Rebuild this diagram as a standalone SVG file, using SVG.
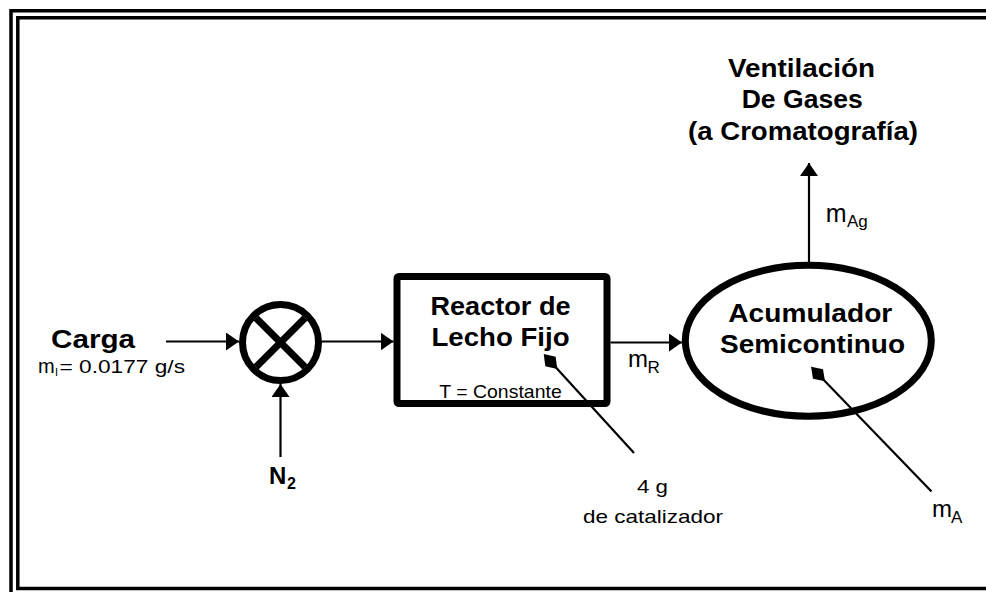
<svg xmlns="http://www.w3.org/2000/svg" width="986" height="592" viewBox="0 0 986 592">
<style>
text{font-family:"Liberation Sans",Arial,sans-serif;fill:#000}
.b{font-weight:bold;font-size:25px}
.r{font-size:19px}
.ln{stroke:#000;stroke-width:2.2;fill:none}
.thick{stroke:#000;stroke-width:7;fill:none}
.frame{stroke:#000;stroke-width:3.5;fill:none}
</style>
<defs>
<marker id="arr" markerUnits="userSpaceOnUse" viewBox="0 0 13 18" refX="13" refY="9" markerWidth="13" markerHeight="18" orient="auto">
<path d="M0,0 L13,9 L0,18 Z" fill="#000"/>
</marker>
<marker id="dia" markerUnits="userSpaceOnUse" viewBox="-11 -8 22 16" refX="0" refY="0" markerWidth="22" markerHeight="16" orient="auto">
<path d="M-10,0 L0,-7 L10,0 L0,7 Z" fill="#000"/>
</marker>
</defs>
<g id="frame">
<path class="frame" d="M11,592 V10.8 H986"/>
<path class="frame" d="M986,17.8 H17.8 V588.5 H986"/>
</g>
<g id="connectors">
<line class="ln" x1="166" y1="341.5" x2="239" y2="341.5" marker-end="url(#arr)"/>
<line class="ln" x1="280.5" y1="457" x2="280.5" y2="384" marker-end="url(#arr)"/>
<line class="ln" x1="322" y1="341.5" x2="393.5" y2="341.5" marker-end="url(#arr)"/>
<line class="ln" x1="610.5" y1="342.5" x2="682" y2="342.5" marker-end="url(#arr)"/>
<line class="ln" x1="809" y1="262" x2="809" y2="163" marker-end="url(#arr)"/>
<line class="ln" x1="550.5" y1="361.5" x2="634" y2="453" marker-start="url(#dia)"/>
<line class="ln" x1="818" y1="374" x2="931.5" y2="491.5" marker-start="url(#dia)"/>
</g>
<g id="carga">
<text class="b" x="51" y="348" textLength="84" lengthAdjust="spacingAndGlyphs">Carga</text>
<text class="r" x="38" y="373" style="font-size:20px">m</text>
<text x="55" y="376" style="font-size:11px">I</text>
<text class="r" x="59.5" y="373" textLength="125.5" lengthAdjust="spacingAndGlyphs">= 0.0177 g/s</text>
</g>
<g id="mixer">
<circle class="thick" cx="280.5" cy="342.5" r="38"/>
<line class="thick" x1="256" y1="318" x2="305" y2="367"/>
<line class="thick" x1="256" y1="367" x2="305" y2="318"/>
</g>
<g id="n2">
<text class="b" x="269" y="484" style="font-size:24px">N</text>
<text x="287" y="489" style="font-size:16px;font-weight:bold">2</text>
</g>
<g id="reactor">
<rect class="thick" x="397" y="276.5" width="210" height="127" rx="2"/>
<text class="b" x="500.5" y="315" text-anchor="middle" textLength="140" lengthAdjust="spacingAndGlyphs">Reactor de</text>
<text class="b" x="500.5" y="346" text-anchor="middle" textLength="138" lengthAdjust="spacingAndGlyphs">Lecho Fijo</text>
<text class="r" x="500.5" y="397.5" text-anchor="middle" textLength="122.5" lengthAdjust="spacingAndGlyphs">T = Constante</text>
</g>
<g id="mR">
<text x="628" y="367" style="font-size:24px">m</text>
<text x="647.5" y="373" style="font-size:17px">R</text>
</g>
<g id="acumulador">
<ellipse class="thick" cx="808.3" cy="340.8" rx="123" ry="75.5"/>
<text class="b" x="810.3" y="321.7" text-anchor="middle" textLength="164" lengthAdjust="spacingAndGlyphs">Acumulador</text>
<text class="b" x="812.5" y="353.3" text-anchor="middle" textLength="185" lengthAdjust="spacingAndGlyphs">Semicontinuo</text>
</g>
<g id="ventilacion">
<text class="b" x="801.5" y="76.7" text-anchor="middle" textLength="147" lengthAdjust="spacingAndGlyphs">Ventilación</text>
<text class="b" x="802.2" y="108.3" text-anchor="middle" textLength="121" lengthAdjust="spacingAndGlyphs">De Gases</text>
<text class="b" x="803" y="140" text-anchor="middle" textLength="230" lengthAdjust="spacingAndGlyphs">(a Cromatografía)</text>
</g>
<g id="mAg">
<text x="825.7" y="222" style="font-size:25px">m</text>
<text x="847" y="227" style="font-size:17px">Ag</text>
</g>
<g id="catalizador">
<text class="r" x="652.5" y="493" text-anchor="middle" textLength="31" lengthAdjust="spacingAndGlyphs">4 g</text>
<text class="r" x="583" y="523" textLength="140" lengthAdjust="spacingAndGlyphs">de catalizador</text>
</g>
<g id="mA">
<text x="932" y="517" style="font-size:24px">m</text>
<text x="951" y="523" style="font-size:17px">A</text>
</g>
</svg>
